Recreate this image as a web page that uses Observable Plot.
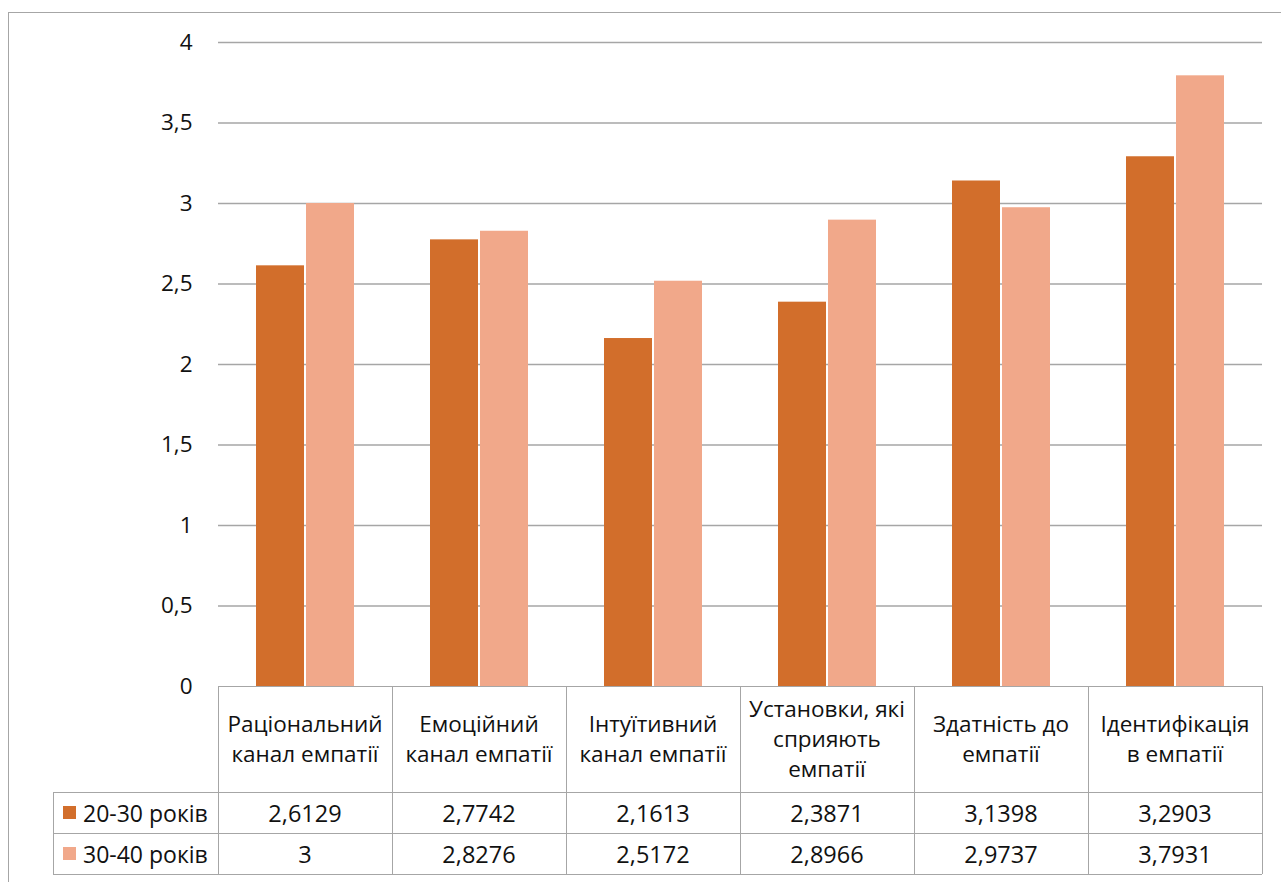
<!DOCTYPE html>
<html>
<head>
<meta charset="utf-8">
<script src="https://cdn.jsdelivr.net/npm/d3@7"></script>
<script src="https://cdn.jsdelivr.net/npm/@observablehq/plot@0.6"></script>
<style>
  html, body { margin: 0; padding: 0; background: #fff; }
  #wrap { position: relative; width: 1281px; height: 882px; overflow: hidden; font-family: "Open Sans", sans-serif; color: #111; }
  #frame { position: absolute; left: 8px; top: 12px; width: 1300px; height: 900px; border: 1px solid #a6a6a6; box-sizing: border-box; }
  #chart { position: absolute; left: 0; top: 0; }
  .cell { position: absolute; box-sizing: border-box; display: flex; align-items: center; justify-content: center; text-align: center; }
  .hdr { font-size: 22.5px; line-height: 30px; padding: 0 4px; }
  .val { font-size: 23.5px; }
  .leg { justify-content: flex-start; font-size: 23px; padding-left: 10px; white-space: nowrap; }
  .sw { display: inline-block; width: 13px; height: 13px; margin-right: 7px; }
  .hl { position: absolute; height: 0; border-top: 1.5px solid #a6a6a6; }
  .vl { position: absolute; width: 0; border-left: 1.5px solid #a6a6a6; }
</style>
</head>
<body>
<div id="wrap">
  <div id="frame"></div>
  <div id="chart"></div>
</div>
<script>
const categories = [
  "Раціональний канал емпатії",
  "Емоційний канал емпатії",
  "Інтуїтивний канал емпатії",
  "Установки, які сприяють емпатії",
  "Здатність до емпатії",
  "Ідентифікація в емпатії"
];
const seriesNames = ["20-30 років", "30-40 років"];
const values2030 = [2.6129, 2.7742, 2.1613, 2.3871, 3.1398, 3.2903];
const values3040 = [3, 2.8276, 2.5172, 2.8966, 2.9737, 3.7931];
const valueLabels2030 = ["2,6129", "2,7742", "2,1613", "2,3871", "3,1398", "3,2903"];
const valueLabels3040 = ["3", "2,8276", "2,5172", "2,8966", "2,9737", "3,7931"];
const yTicks = [0, 0.5, 1, 1.5, 2, 2.5, 3, 3.5, 4];
const colors = ["#d26e2b", "#f1a88a"];

const rows = [];
categories.forEach((c, i) => {
  rows.push({cat: c, series: seriesNames[0], value: values2030[i]});
  rows.push({cat: c, series: seriesNames[1], value: values3040[i]});
});

const W = 1281, H = 700;
const mL = 218, mR = 19, mT = 42, mB = 14;

const chart = Plot.plot({
  width: W, height: H,
  marginLeft: mL, marginRight: mR, marginTop: mT, marginBottom: mB,
  style: {fontFamily: "Open Sans, sans-serif", fontSize: "22px", color: "#111", background: "transparent"},
  fx: {domain: categories, axis: null, paddingInner: 0, paddingOuter: 0, padding: 0},
  x: {domain: seriesNames, axis: null, paddingInner: 0.04, paddingOuter: 0.76},
  y: {domain: [0, 4], axis: null},
  color: {domain: seriesNames, range: colors},
  marks: [
    Plot.ruleY(yTicks.slice(1), {stroke: "#a6a6a6", strokeWidth: 1.5}),
    Plot.barY(rows, {fx: "cat", x: "series", y: "value", fill: "series"}),
    Plot.axisY({ticks: yTicks, tickSize: 0, tickPadding: 26, label: null,
      fontSize: 22.5, fill: "#111",
      tickFormat: d => String(d).replace(".", ",")}),
    Plot.axisY({ticks: [], tickSize: 0, label: null, line: true, stroke: "#a6a6a6", strokeWidth: 1.5, strokeOpacity: 1})
  ]
});
document.getElementById("chart").appendChild(chart);

// Data table below the plot, aligned to the fx scale
const wrap = document.getElementById("wrap");
const fx = chart.scale("fx");
const bw = fx.bandwidth || (W - mL - mR) / categories.length;
const colX = categories.map(c => {
  const v = fx.apply(c);
  return (v !== undefined && !isNaN(v)) ? v : mL + categories.indexOf(c) * bw;
});
const tableTop = H - mB;   // y of zero line
const r1 = 792, r2 = 833, r3 = 874;
const legL = 53;
const right = colX[colX.length - 1] + bw;

function add(cls, style, html) {
  const d = document.createElement("div");
  d.className = cls;
  Object.assign(d.style, style);
  if (html !== undefined) d.innerHTML = html;
  wrap.appendChild(d);
  return d;
}

// lines
add("hl", {left: mL + "px", top: tableTop + "px", width: (right - mL) + "px"});
[r1, r2, r3].forEach(y => add("hl", {left: legL + "px", top: y + "px", width: (right - legL) + "px"}));
colX.forEach(x => add("vl", {left: x + "px", top: tableTop + "px", height: (r3 - tableTop) + "px"}));
add("vl", {left: right + "px", top: tableTop + "px", height: (r3 - tableTop) + "px"});
add("vl", {left: legL + "px", top: r1 + "px", height: (r3 - r1) + "px"});

// header
categories.forEach((c, i) => {
  add("cell hdr", {left: colX[i] + "px", top: tableTop + "px", width: bw + "px", height: (r1 - tableTop) + "px"}, c);
  add("cell val", {left: colX[i] + "px", top: r1 + "px", width: bw + "px", height: (r2 - r1) + "px"}, valueLabels2030[i]);
  add("cell val", {left: colX[i] + "px", top: r2 + "px", width: bw + "px", height: (r3 - r2) + "px"}, valueLabels3040[i]);
});
add("cell leg", {left: legL + "px", top: r1 + "px", width: (mL - legL) + "px", height: (r2 - r1) + "px"},
  `<span class="sw" style="background:${colors[0]}"></span>${seriesNames[0]}`);
add("cell leg", {left: legL + "px", top: r2 + "px", width: (mL - legL) + "px", height: (r3 - r2) + "px"},
  `<span class="sw" style="background:${colors[1]}"></span>${seriesNames[1]}`);
</script>
</body>
</html>
